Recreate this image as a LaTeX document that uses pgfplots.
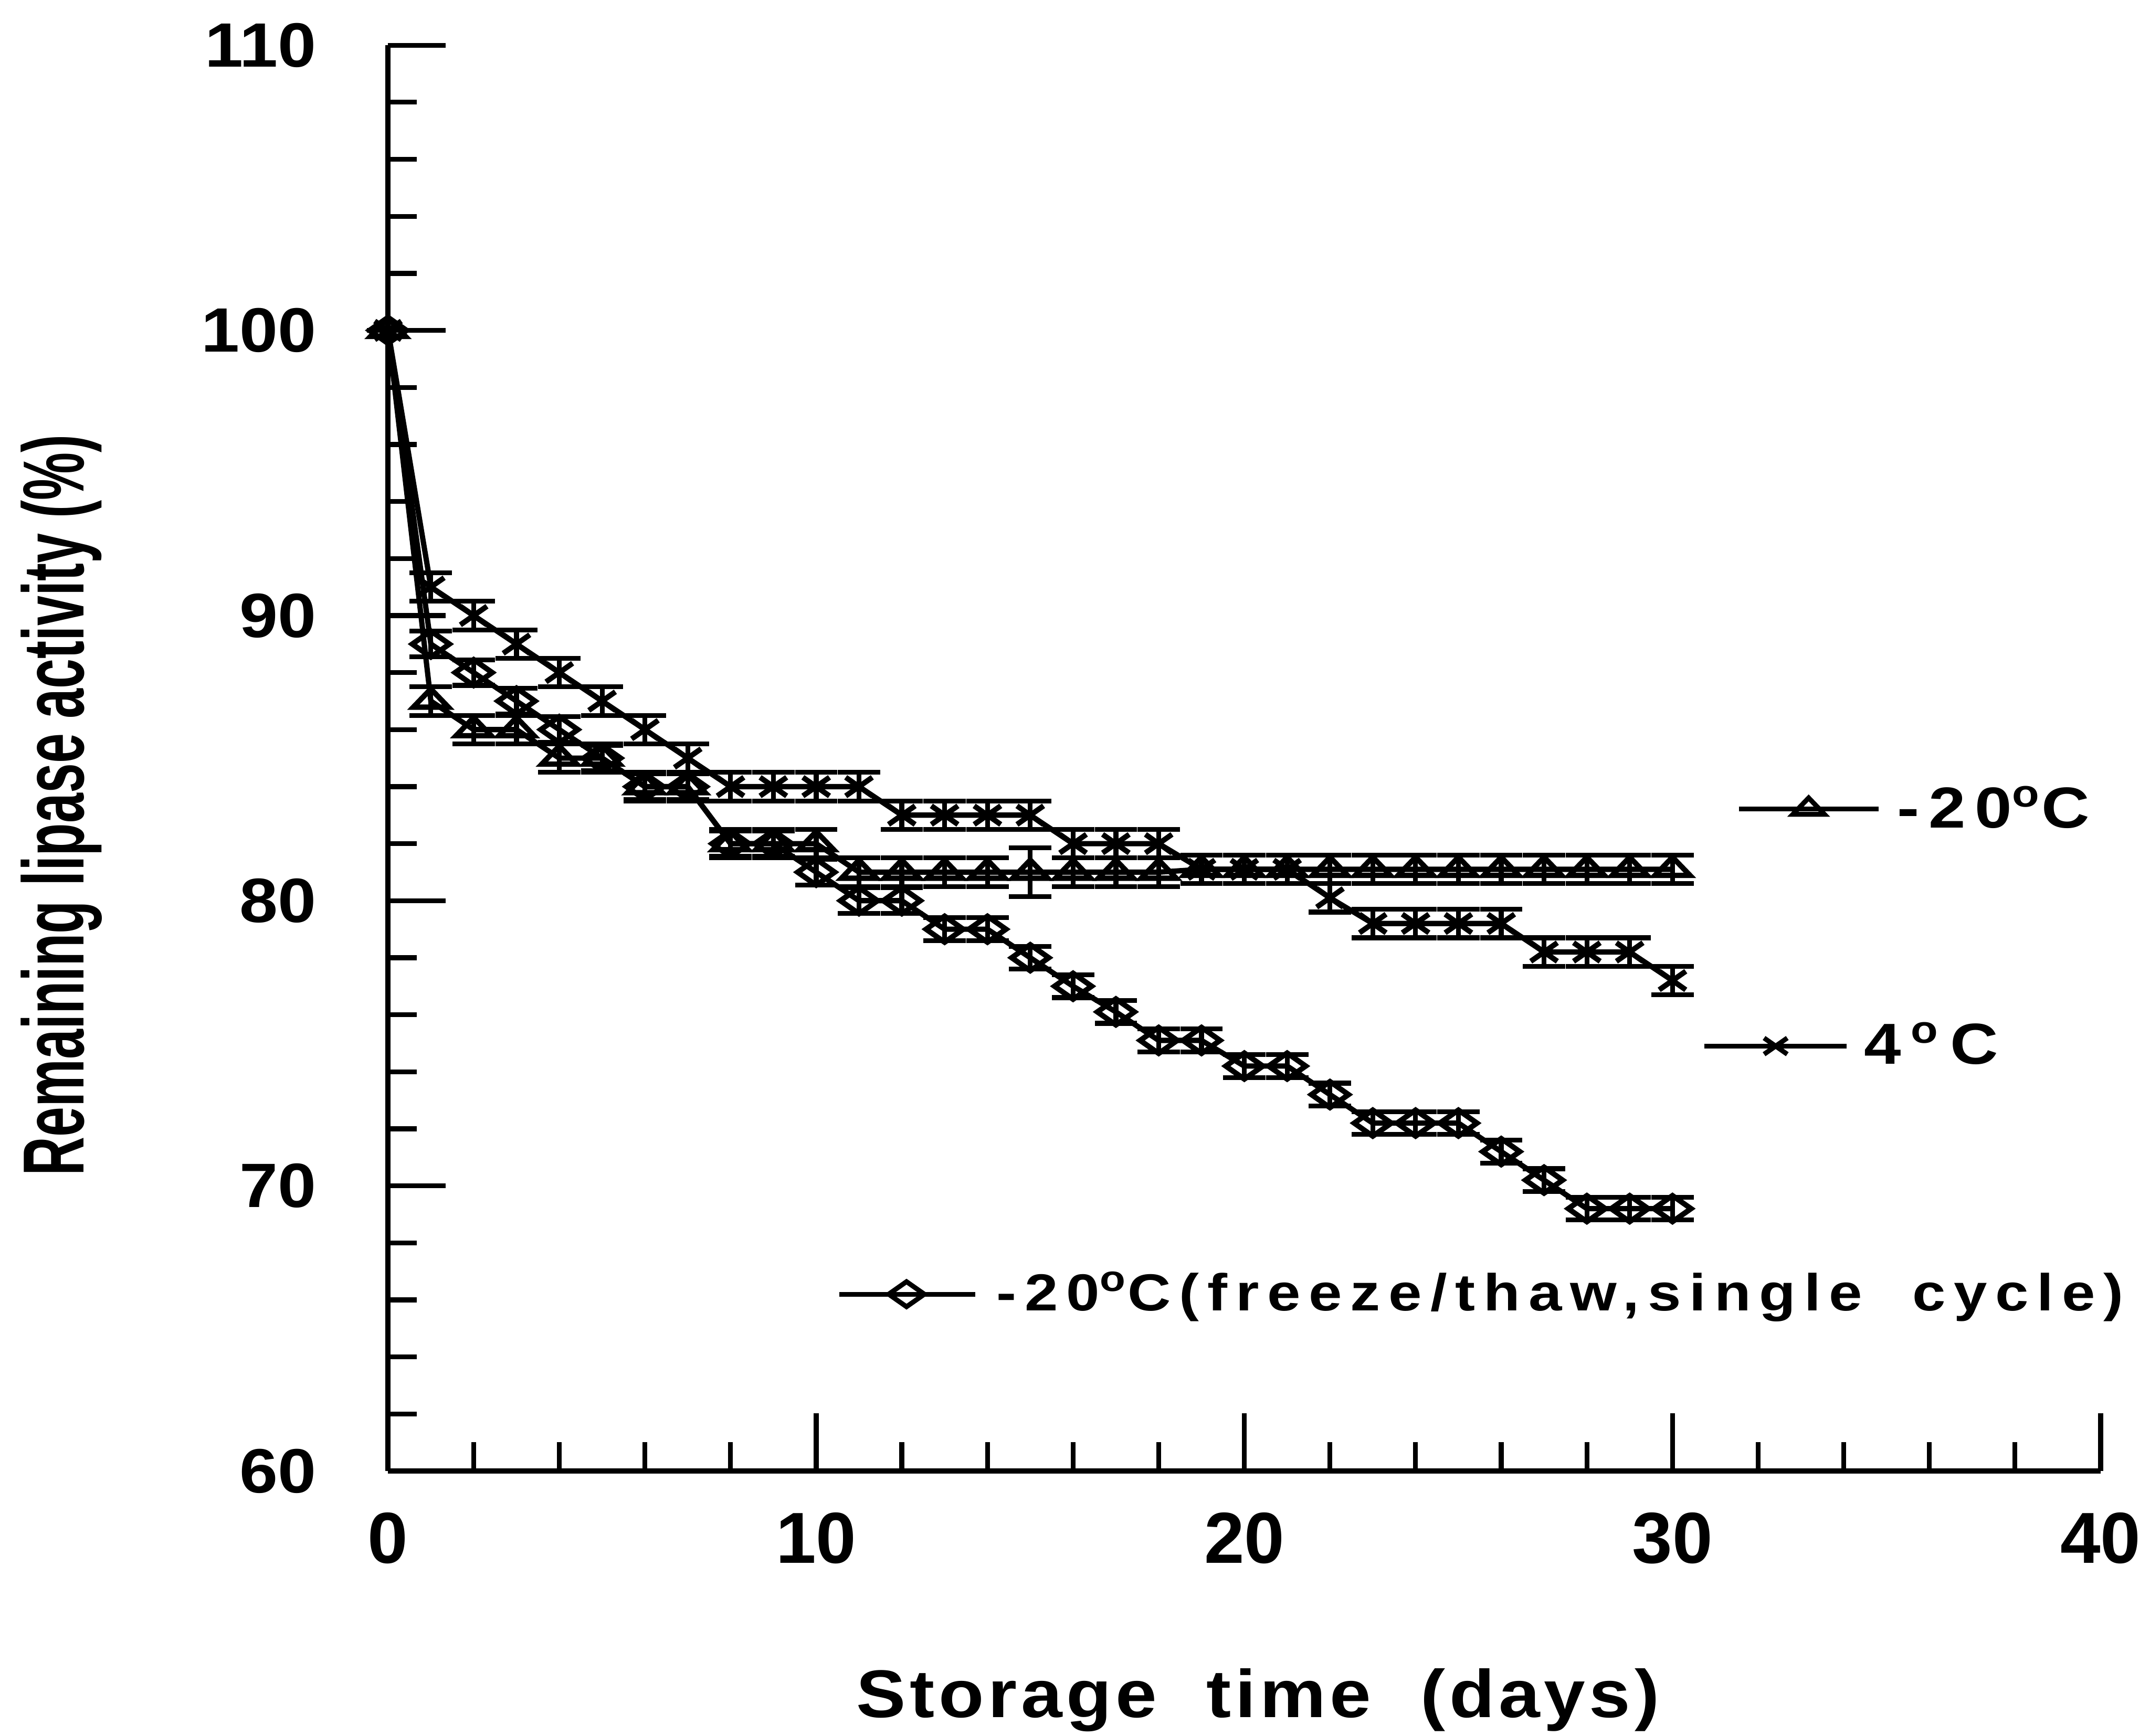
\documentclass[border=0pt]{standalone}
\usepackage{pgfplots}
\pgfplotsset{compat=1.18}
\usepackage{fontspec}
\setmainfont{Liberation Sans}
\newfontfamily\lblfont[FakeStretch=1.1,LetterSpace=6]{Liberation Sans}
\newfontfamily\ylabfont[FakeStretch=0.62]{Liberation Sans}
\newfontfamily\legfont[FakeStretch=1.15,LetterSpace=16]{Liberation Sans}
\newfontfamily\tickfont[FakeStretch=1.1]{Liberation Sans}
\begin{document}
\begin{tikzpicture}
\begin{axis}[
  scale only axis, width=12.49cm, height=10.40cm,
  xmin=0, xmax=40, ymin=60, ymax=110,
  axis lines=left, axis line style={-, line width=1.1pt},
  clip=false,
  xtick={0,10,20,30,40}, ytick={60,70,80,90,100,110},
  minor x tick num=4, minor y tick num=4,
  tick align=inside, major tick length=0.42cm, minor tick length=0.21cm,
  every tick/.style={black, line width=1pt},
  /pgf/number format/assume math mode=true,
  xticklabel style={font=\bfseries\fontsize{15}{15}\selectfont, yshift=-0.18cm},
  yticklabel style={font=\tickfont\bfseries\fontsize{13}{13}\selectfont, xshift=-0.4cm},
  xlabel={\lblfont\bfseries\fontsize{14}{14}\selectfont Storage\ \ time\ \ (days)},
  xlabel style={at={(axis description cs:0.508,-0.1606)}, anchor=center},
  ylabel={\ylabfont\bfseries\fontsize{18}{18}\selectfont Remaining lipase activity (\%)},
  ylabel style={at={(axis description cs:-0.1906,0.467)}, anchor=center, rotate=0},
  error bars/y dir=both, error bars/y explicit,
  error bars/error bar style={line width=1pt, black},
  error bars/error mark options={rotate=90, mark size=4.4pt, line width=1pt, black},
]
% -20 C (triangles)
\addplot[black, line width=1.1pt, mark=triangle, mark size=4.2pt,
  mark options={yscale=0.6, fill=white, solid}] coordinates {
(0,100) +- (0,0)
(1,87) +- (0,0.5)
(2,86) +- (0,0.5)
(3,86) +- (0,0.5)
(4,85) +- (0,0.5)
(5,85) +- (0,0.5)
(6,84) +- (0,0.5)
(7,84) +- (0,0.5)
(8,82) +- (0,0.5)
(9,82) +- (0,0.5)
(10,82) +- (0,0.5)
(11,81) +- (0,0.5)
(12,81) +- (0,0.5)
(13,81) +- (0,0.5)
(14,81) +- (0,0.5)
(15,81) +- (0,0.85)
(16,81) +- (0,0.5)
(17,81) +- (0,0.5)
(18,81) +- (0,0.5)
(19,81.1) +- (0,0.5)
(20,81.1) +- (0,0.5)
(21,81.1) +- (0,0.5)
(22,81.1) +- (0,0.5)
(23,81.1) +- (0,0.5)
(24,81.1) +- (0,0.5)
(25,81.1) +- (0,0.5)
(26,81.1) +- (0,0.5)
(27,81.1) +- (0,0.5)
(28,81.1) +- (0,0.5)
(29,81.1) +- (0,0.5)
(30,81.1) +- (0,0.5)
};
% 4 C (crosses)
\addplot[black, line width=1.1pt, mark=x, mark size=3.9pt,
  mark options={yscale=0.7, solid}] coordinates {
(0,100) +- (0,0)
(1,91) +- (0,0.5)
(2,90) +- (0,0.5)
(3,89) +- (0,0.5)
(4,88) +- (0,0.5)
(5,87) +- (0,0.5)
(6,86) +- (0,0.5)
(7,85) +- (0,0.5)
(8,84) +- (0,0.5)
(9,84) +- (0,0.5)
(10,84) +- (0,0.5)
(11,84) +- (0,0.5)
(12,83) +- (0,0.5)
(13,83) +- (0,0.5)
(14,83) +- (0,0.5)
(15,83) +- (0,0.5)
(16,82) +- (0,0.5)
(17,82) +- (0,0.5)
(18,82) +- (0,0.5)
(19,81.1) +- (0,0.5)
(20,81.1) +- (0,0.5)
(21,81.1) +- (0,0.5)
(22,80.1) +- (0,0.5)
(23,79.2) +- (0,0.5)
(24,79.2) +- (0,0.5)
(25,79.2) +- (0,0.5)
(26,79.2) +- (0,0.5)
(27,78.2) +- (0,0.5)
(28,78.2) +- (0,0.5)
(29,78.2) +- (0,0.5)
(30,77.2) +- (0,0.5)
};
% -20 C freeze/thaw (diamonds)
\addplot[black, line width=1.1pt, mark=diamond, mark size=2.7pt,
  mark options={xscale=1.9, fill=white, solid}] coordinates {
(0,100) +- (0,0)
(1,89) +- (0,0.45)
(2,88) +- (0,0.45)
(3,87) +- (0,0.45)
(4,86) +- (0,0.45)
(5,85) +- (0,0.45)
(6,84) +- (0,0.45)
(7,84) +- (0,0.45)
(8,82) +- (0,0.45)
(9,82) +- (0,0.45)
(10,81) +- (0,0.45)
(11,80) +- (0,0.45)
(12,80) +- (0,0.45)
(13,79) +- (0,0.4)
(14,79) +- (0,0.4)
(15,78) +- (0,0.4)
(16,77) +- (0,0.4)
(17,76.1) +- (0,0.4)
(18,75.1) +- (0,0.4)
(19,75.1) +- (0,0.4)
(20,74.2) +- (0,0.4)
(21,74.2) +- (0,0.4)
(22,73.2) +- (0,0.4)
(23,72.2) +- (0,0.4)
(24,72.2) +- (0,0.4)
(25,72.2) +- (0,0.4)
(26,71.2) +- (0,0.4)
(27,70.2) +- (0,0.4)
(28,69.2) +- (0,0.4)
(29,69.2) +- (0,0.4)
(30,69.2) +- (0,0.4)
};
% legend samples
\addplot[black, line width=1pt, mark=triangle, mark size=3.8pt, mark indices={2},
  mark options={yscale=0.6, fill=white, solid}, error bars/y dir=none] coordinates {
(31.55,83.22) (33.18,83.22) (34.81,83.22)};
\addplot[black, line width=1pt, mark=x, mark size=3.4pt, mark indices={2},
  mark options={yscale=0.7, solid}, error bars/y dir=none] coordinates {
(30.74,74.9) (32.41,74.9) (34.07,74.9)};
\addplot[black, line width=1pt, mark=diamond, mark size=2.6pt, mark indices={2},
  mark options={xscale=1.9, fill=white, solid}, error bars/y dir=none] coordinates {
(10.54,66.2) (12.11,66.2) (13.71,66.2)};
\node[anchor=base west, inner sep=0pt, font=\legfont\bfseries\fontsize{12}{12}\selectfont]
  at (axis cs:35.23,82.55) {-20\textsuperscript{o}C};
\node[anchor=base west, inner sep=0pt, font=\legfont\bfseries\fontsize{12}{12}\selectfont]
  at (axis cs:34.46,74.28) {4\,\textsuperscript{o}\,C};
\node[anchor=base west, inner sep=0pt, font=\legfont\bfseries\fontsize{10.8}{10.8}\selectfont]
  at (axis cs:14.19,65.63) {-20\textsuperscript{o}C(freeze/thaw,single\ \ cycle)};
\end{axis}
\pgfresetboundingbox
\path (-2.83,-1.93) rectangle (12.85,10.73);
\end{tikzpicture}
\end{document}
